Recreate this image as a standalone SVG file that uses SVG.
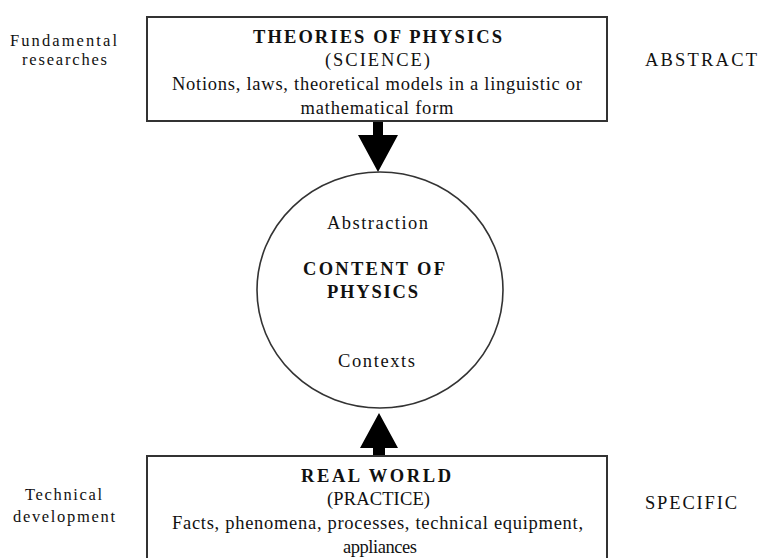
<svg xmlns="http://www.w3.org/2000/svg" width="759" height="558" viewBox="0 0 759 558">
<style>
  text { font-family: "Liberation Serif", "Times New Roman", serif; font-size: 18.5px; fill: #111; }
  .c { text-anchor: middle; }
  .b { font-weight: bold; font-size: 18.5px; }
  .s { font-size: 16.5px; }
  .box { fill: #fff; stroke: #333; stroke-width: 2; }
  .circ { fill: #fff; stroke: #333; stroke-width: 1.6; }
  .arrow { fill: #000; stroke: none; }
</style>
<rect width="759" height="558" fill="#fff"/>
<g id="connectors">
  <polygon class="arrow" points="373,121 383,121 383,135 398,135 378,172 358,135 373,135"/>
  <polygon class="arrow" points="379,413 398,448 385,448 385,456 373,456 373,448 360,448"/>
</g>
<g id="theories">
  <rect class="box" x="147" y="17" width="460" height="104"/>
  <text class="c b" x="377.5" y="43" textLength="249" lengthAdjust="spacing">THEORIES OF PHYSICS</text>
  <text class="c" x="377.5" y="66" textLength="105" lengthAdjust="spacing">(SCIENCE)</text>
  <text class="c" x="377" y="90" textLength="410" lengthAdjust="spacing">Notions, laws, theoretical models in a linguistic or</text>
  <text class="c" x="377" y="114" textLength="153" lengthAdjust="spacing">mathematical form</text>
</g>
<g id="content">
  <ellipse class="circ" cx="380" cy="290" rx="123" ry="118"/>
  <text class="c" x="377.5" y="229" textLength="101" lengthAdjust="spacing">Abstraction</text>
  <text class="c b" x="374" y="275" textLength="142" lengthAdjust="spacing">CONTENT OF</text>
  <text class="c b" x="372.5" y="298" textLength="91" lengthAdjust="spacing">PHYSICS</text>
  <text class="c" x="376.5" y="367" textLength="77" lengthAdjust="spacing">Contexts</text>
</g>
<g id="realworld">
  <rect class="box" x="147" y="456" width="460" height="120"/>
  <text class="c b" x="376" y="482" textLength="150" lengthAdjust="spacing">REAL WORLD</text>
  <text class="c" x="378.5" y="505" textLength="103" lengthAdjust="spacing">(PRACTICE)</text>
  <text class="c" x="377.5" y="529" textLength="411" lengthAdjust="spacing">Facts, phenomena, processes, technical equipment,</text>
  <text class="c" x="380" y="553" textLength="74" lengthAdjust="spacing">appliances</text>
</g>
<g id="fundamental">
  <text class="c s" x="63.5" y="46" textLength="107" lengthAdjust="spacing">Fundamental</text>
  <text class="c s" x="64.5" y="65" textLength="85" lengthAdjust="spacing">researches</text>
</g>
<g id="technical">
  <text class="c s" x="63.5" y="500" textLength="77" lengthAdjust="spacing">Technical</text>
  <text class="c s" x="64" y="522" textLength="102" lengthAdjust="spacing">development</text>
</g>
<g id="abstract">
  <text x="645" y="66" textLength="112" lengthAdjust="spacing">ABSTRACT</text>
</g>
<g id="specific">
  <text x="645" y="509" textLength="92" lengthAdjust="spacing">SPECIFIC</text>
</g>
</svg>
